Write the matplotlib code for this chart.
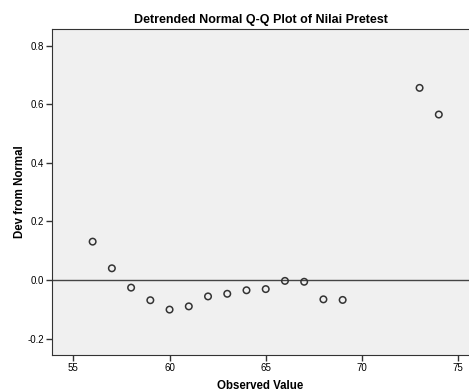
import matplotlib.pyplot as plt

plt.rcParams["font.family"] = ["Liberation Sans", "DejaVu Sans"]

# 관측값 / 정규분포로부터의 편차
observed = [56, 57, 58, 59, 60, 61, 62, 63, 64, 65, 66, 67, 68, 69, 73, 74]
dev = [0.131, 0.040, -0.026, -0.069, -0.101, -0.090, -0.056, -0.047,
       -0.035, -0.031, -0.003, -0.006, -0.066, -0.068, 0.656, 0.565]

xticks = [55, 60, 65, 70, 75]
yticks = [-0.2, 0.0, 0.2, 0.4, 0.6, 0.8]

fig = plt.figure(figsize=(4.69, 3.92), dpi=100)
ax = fig.add_axes([0.111, 0.0944, 0.889, 0.8316])
ax.set_facecolor("#f0f0f0")

ax.axhline(0, color="#444444", linewidth=1.0, zorder=1)
ax.scatter(observed, dev, s=22, facecolors="none", edgecolors="#333333",
           linewidths=1.1, zorder=2)

ax.set_xlim(53.89, 75.57)
ax.set_ylim(-0.256, 0.857)
ax.set_xticks(xticks)
ax.set_yticks(yticks)
ax.set_yticklabels([f"{v:.1f}" for v in yticks])
ax.tick_params(labelsize=7, length=4, width=1, color="#333333", pad=2)

for side in ["left", "bottom", "top"]:
    ax.spines[side].set_color("#333333")
ax.spines["right"].set_visible(False)

ax.set_title("Detrended Normal Q-Q Plot of Nilai Pretest", fontsize=9,
             fontweight="bold", pad=4)
ax.set_xlabel("Observed Value", fontsize=8.3, fontweight="bold", labelpad=5)
ax.set_ylabel("Dev from Normal", fontsize=8.3, fontweight="bold", labelpad=1)

fig.savefig("out.png", dpi=100)
